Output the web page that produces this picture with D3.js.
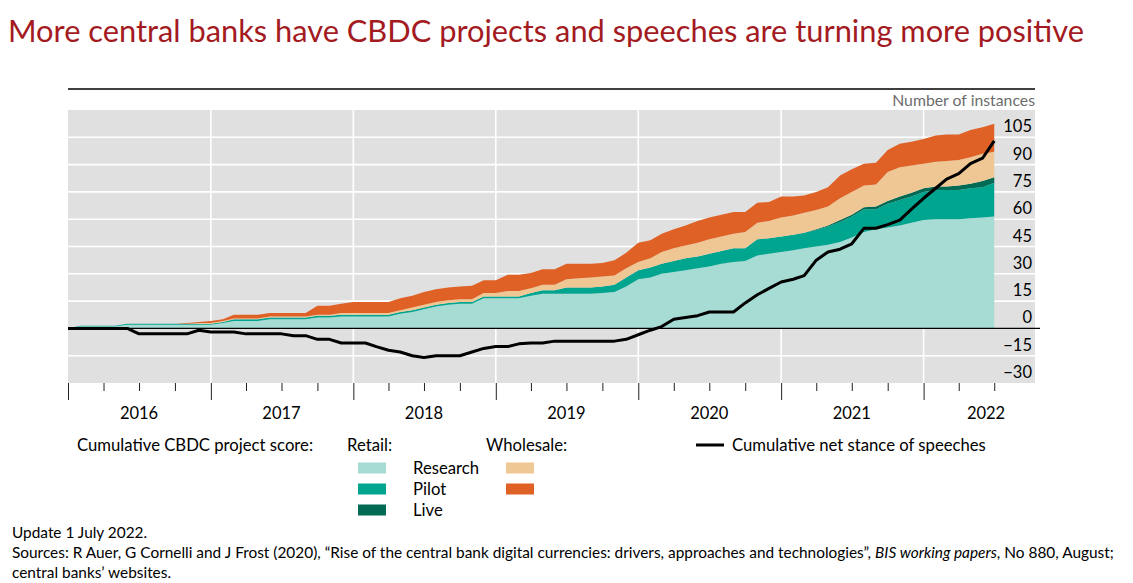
<!DOCTYPE html>
<html lang="en">

<head>
    <meta charset="UTF-8">
    <title>More central banks have CBDC projects</title>
    <script src="https://d3js.org/d3.v7.min.js"></script>
    <style>
        body {
            margin: 0;
            background: #fff;
        }

        svg text {
            font-family: Lato, "Open Sans", sans-serif;
            fill: #000;
        }

        .title {
            font-size: 30.8px;
            fill: #a31a1f;
        }

        .grid line {
            stroke: #fff;
            stroke-width: 1.6;
        }

        .axis .tick line {
            stroke: #222;
        }

        .axis .domain {
            display: none;
        }
    </style>
</head>

<body>
    <svg id="chart" width="1133" height="583"></svg>

    <script>
        // monthly values, Jan 2016 to Jul 2022 (one row per year)
        const research = [
            0, 1, 1, 1, 1, 2, 2, 2, 2, 2, 2, 2,
            2, 3, 4, 4, 4, 5, 5, 5, 5, 6, 6, 6.5,
            6.5, 6.5, 6.5, 6.5, 8, 9, 10.5, 12, 13, 13.5, 13.5, 16.5,
            16.5, 16.5, 16.5, 18, 19, 19, 19, 19, 19, 19.5, 20, 23,
            27, 28, 30, 31, 32, 33, 34, 35.5, 36.5, 37, 40, 41,
            42, 43, 44, 45, 46, 47.5, 50, 53, 54.5, 55.5, 56.5, 58,
            59.5, 60, 60, 60, 60.5, 61, 61.5
        ];
        const pilot = [
            0, 0.5, 0.5, 0.5, 0.5, 0.5, 0.5, 0.5, 0.5, 0.5, 0.5, 0.5,
            0.5, 0.5, 1, 1, 1, 1, 1, 1, 1, 1, 1, 1,
            1, 1, 1, 1, 1, 1, 1, 1, 1, 1, 1, 1,
            1, 1, 1, 1.5, 2, 2, 3.5, 3.5, 3.5, 3.5, 4, 5,
            5, 5.5, 5.5, 6, 6.5, 6.5, 7, 7, 7.5, 7, 9, 8.5,
            8.5, 8.5, 8.5, 9, 10, 11, 11.5, 12.5, 11, 13, 14, 14.5,
            15.5, 16, 16, 16, 16.5, 16.5, 18.5
        ];
        const live = [
            0, 0, 0, 0, 0, 0, 0, 0, 0, 0, 0, 0,
            0, 0, 0, 0, 0, 0, 0, 0, 0, 0, 0, 0,
            0, 0, 0, 0, 0, 0, 0, 0, 0, 0, 0, 0,
            0, 0, 0, 0, 0, 0, 0, 0, 0, 0, 0, 0,
            0, 0, 0, 0, 0, 0, 0, 0, 0, 0, 0, 0,
            0, 0, 0, 0.5, 0.5, 1, 1, 1, 1.5, 1.5, 2, 2,
            2, 2, 2, 2.5, 2.5, 3.5, 3
        ];
        const wsResearch = [
            0, 0, 0, 0, 0, 0, 0, 0, 0, 0, 0, 0.5,
            0.5, 0.5, 0.5, 0.5, 0.5, 0.5, 0.5, 0.5, 0.5, 0.5, 0.5, 1,
            1, 1, 1, 1, 1, 1.5, 1.5, 1.5, 1.5, 1.5, 1.5, 2,
            2, 3, 3, 2.5, 3, 3, 4.5, 5, 5.5, 5.5, 5, 5,
            4.5, 5, 6.5, 7, 7, 7.5, 8, 8, 8, 9, 9, 9.5,
            10.5, 10.5, 11, 10.5, 10.5, 12, 12.5, 12, 12, 16, 16, 15,
            13.5, 13.5, 14, 14, 14.5, 15, 14
        ];
        const wsPilot = [
            0, 0, 0, 0, 0, 0, 0, 0, 0, 0, 0.5, 0.5,
            1, 1, 2, 2, 2, 2, 2, 2, 2, 5, 5, 5,
            6, 6, 6, 6, 6.5, 6.5, 7, 7, 7, 7, 7.5, 7,
            7, 9, 9, 8.5, 8.5, 8.5, 8.5, 8, 7.5, 7.5, 8.5, 8.5,
            10.5, 10, 10, 10.5, 11, 12, 12, 12, 12, 11, 11, 10.5,
            11.5, 10.5, 9.5, 10, 10.5, 12.5, 12.5, 12, 12, 12, 13, 13,
            13.5, 14.5, 14.5, 14, 15, 14.5, 15.5
        ];
        const speeches = [
            0, 0, 0, 0, 0, 0, -3, -3, -3, -3, -3, -1,
            -2, -2, -2, -3, -3, -3, -3, -4, -4, -6, -6, -8,
            -8, -8, -10, -12, -13, -15, -16, -15, -15, -15, -13, -11,
            -10, -10, -8.5, -8, -8, -7, -7, -7, -7, -7, -7, -6,
            -3.5, -1, 1, 5, 6, 7, 9, 9, 9, 14, 18.5, 22,
            25.5, 27, 29, 37.5, 42, 43.5, 46.5, 55, 55, 57, 59.5, 65.5,
            71.5, 77, 82, 85, 90.5, 93.5, 103
        ];

        const years = ["2016", "2017", "2018", "2019", "2020", "2021", "2022"];
        const yTicks = [105, 90, 75, 60, 45, 30, 15, 0, -15, -30];

        const keys = ["research", "pilot", "live", "wsResearch", "wsPilot"];
        const colors = {
            research: "#a6dcd4",
            pilot: "#00a590",
            live: "#006a55",
            wsResearch: "#eec794",
            wsPilot: "#df6126"
        };

        const months = d3.timeMonth.range(new Date(2016, 0, 1), new Date(2022, 7, 1));
        const table = months.map((date, i) => ({
            date: date,
            research: research[i],
            pilot: pilot[i],
            live: live[i],
            wsResearch: wsResearch[i],
            wsPilot: wsPilot[i],
            speeches: speeches[i]
        }));

        const svg = d3.select("#chart");
        const plotLeft = 68, plotRight = 1035, plotTop = 110, plotBottom = 383;

        const x = d3.scaleTime()
            .domain([new Date(2016, 0, 1), new Date(2022, 0, 1)])
            .range([plotLeft, 923.6]);
        const y = d3.scaleLinear()
            .domain([-30, 120])
            .range([plotBottom, plotTop]);

        // title
        svg.append("text")
            .attr("class", "title")
            .attr("x", 8)
            .attr("y", 42)
            .text("More central banks have CBDC projects and speeches are turning more positive");

        // top rule
        svg.append("line")
            .attr("x1", plotLeft).attr("x2", plotRight)
            .attr("y1", 89).attr("y2", 89)
            .attr("stroke", "#000").attr("stroke-width", 1.5);

        svg.append("text")
            .attr("x", plotRight)
            .attr("y", 106)
            .attr("text-anchor", "end")
            .style("font-size", "15.8px")
            .style("fill", "#6d6d6d")
            .text("Number of instances");

        // plot background
        svg.append("rect")
            .attr("x", plotLeft).attr("y", plotTop)
            .attr("width", plotRight - plotLeft)
            .attr("height", plotBottom - plotTop)
            .attr("fill", "#e0e0e0");

        // grid
        const grid = svg.append("g").attr("class", "grid");
        grid.selectAll(".hline")
            .data(yTicks.filter(d => d > -30 && d !== 0))
            .enter().append("line")
            .attr("x1", plotLeft).attr("x2", plotRight)
            .attr("y1", d => y(d)).attr("y2", d => y(d));
        grid.selectAll(".vline")
            .data(years.slice(1))
            .enter().append("line")
            .attr("x1", d => x(new Date(+d, 0, 1)))
            .attr("x2", d => x(new Date(+d, 0, 1)))
            .attr("y1", plotTop).attr("y2", plotBottom);

        // stacked areas
        const series = d3.stack().keys(keys)(table);
        const area = d3.area()
            .x(d => x(d.data.date))
            .y0(d => y(d[0]))
            .y1(d => y(d[1]));

        svg.append("g")
            .selectAll("path")
            .data(series)
            .enter().append("path")
            .attr("fill", d => colors[d.key])
            .attr("d", area);

        // zero line
        svg.append("line")
            .attr("x1", plotLeft).attr("x2", plotRight + 5)
            .attr("y1", y(0)).attr("y2", y(0))
            .attr("stroke", "#000").attr("stroke-width", 1.2);

        // speeches line
        const line = d3.line()
            .x(d => x(d.date))
            .y(d => y(d.speeches));

        svg.append("path")
            .datum(table)
            .attr("fill", "none")
            .attr("stroke", "#000")
            .attr("stroke-width", 3)
            .attr("stroke-linejoin", "round")
            .attr("d", line);

        // y labels, sitting just above their gridline
        svg.append("g")
            .selectAll("text")
            .data(yTicks)
            .enter().append("text")
            .attr("x", 1032)
            .attr("y", d => y(d) - 5)
            .attr("text-anchor", "end")
            .style("font-size", "16.5px")
            .text(d => d < 0 ? "\u2212" + Math.abs(d) : d);

        // x axis: year ticks and quarter ticks
        const yearDates = years.map(d => new Date(+d, 0, 1));
        const quarterDates = d3.timeMonth.every(3)
            .range(new Date(2016, 0, 1), new Date(2022, 7, 1))
            .filter(d => d.getMonth() !== 0);

        svg.append("g")
            .attr("class", "axis")
            .attr("transform", `translate(0,${plotBottom})`)
            .call(d3.axisBottom(x).tickValues(yearDates).tickSize(17).tickFormat(""));

        svg.append("g")
            .attr("class", "axis")
            .attr("transform", `translate(0,${plotBottom})`)
            .call(d3.axisBottom(x).tickValues(quarterDates).tickSize(8).tickFormat(""));

        svg.append("g")
            .selectAll("text")
            .data(years)
            .enter().append("text")
            .attr("x", d => d === "2022" ? x(new Date(2022, 5, 10)) : x(new Date(+d, 6, 1)))
            .attr("y", 419)
            .attr("text-anchor", "middle")
            .style("font-size", "16.5px")
            .text(d => d);

        // legend
        const legend = svg.append("g").style("font-size", "16.7px");
        legend.append("text").attr("x", 77).attr("y", 451).text("Cumulative CBDC project score:");
        legend.append("text").attr("x", 347).attr("y", 451).text("Retail:");
        legend.append("text").attr("x", 486).attr("y", 451).text("Wholesale:");

        const rows = [
            { label: "Research", retail: "research", wholesale: "wsResearch" },
            { label: "Pilot", retail: "pilot", wholesale: "wsPilot" },
            { label: "Live", retail: "live", wholesale: null }
        ];
        rows.forEach((r, i) => {
            const cy = 468 + i * 21;
            legend.append("rect")
                .attr("x", 358).attr("y", cy - 5.5)
                .attr("width", 28).attr("height", 11)
                .attr("fill", colors[r.retail]);
            legend.append("text").attr("x", 413).attr("y", cy + 6).text(r.label);
            if (r.wholesale) {
                legend.append("rect")
                    .attr("x", 506).attr("y", cy - 5.5)
                    .attr("width", 28).attr("height", 11)
                    .attr("fill", colors[r.wholesale]);
            }
        });

        legend.append("line")
            .attr("x1", 696).attr("x2", 724)
            .attr("y1", 445).attr("y2", 445)
            .attr("stroke", "#000").attr("stroke-width", 3);
        legend.append("text").attr("x", 732).attr("y", 451).text("Cumulative net stance of speeches");

        // footnotes
        const notes = svg.append("g").style("font-size", "15.4px");
        notes.append("text").attr("x", 12).attr("y", 538).text("Update 1 July 2022.");
        const src = notes.append("text").attr("x", 12).attr("y", 558);
        src.append("tspan").text("Sources: R Auer, G Cornelli and J Frost (2020), \u201cRise of the central bank digital currencies: drivers, approaches and  technologies\u201d, ");
        src.append("tspan").style("font-style", "italic").text("BIS working papers");
        src.append("tspan").text(", No 880, August;");
        notes.append("text").attr("x", 12).attr("y", 578).text("central banks\u2019 websites.");
    </script>
</body>

</html>
